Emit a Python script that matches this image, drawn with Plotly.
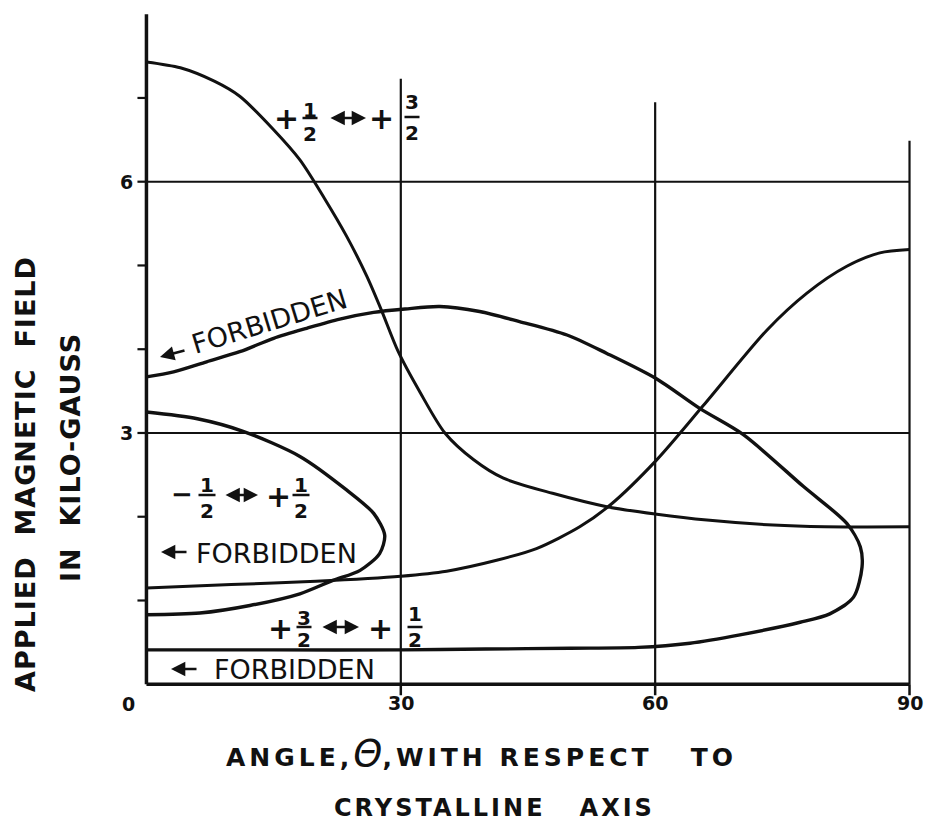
import plotly.graph_objects as go

# ---------------------------------------------------------------------------
# Resonance field (kilogauss) versus angle theta (degrees) to the crystal axis
# ---------------------------------------------------------------------------

# +1/2 <-> +3/2 transition, falling branch
fall_angle = [0, 4.0, 8.0, 11.0, 15.0, 18.1, 21.0, 23.6, 26.0, 27.7, 29.7, 32.3,
              35.2, 38.6, 42.1, 47.9, 54.3, 60.2, 66.1, 73.9, 80.0, 90]
fall_field = [7.43, 7.36, 7.20, 7.02, 6.62, 6.26, 5.80, 5.35, 4.87, 4.47, 3.97, 3.48,
              3.00, 2.68, 2.46, 2.28, 2.12, 2.03, 1.96, 1.90, 1.88, 1.88]

# rising branch
rise_angle = [0, 10.0, 20.0, 30.0, 35.4, 41.3, 46.0, 51.1, 54.7, 60.1,
              65.7, 73.2, 77.9, 82.6, 86.5, 90]
rise_field = [1.15, 1.19, 1.23, 1.29, 1.35, 1.48, 1.62, 1.88, 2.14, 2.67,
              3.33, 4.23, 4.67, 4.99, 5.15, 5.19]

# +3/2 <-> +1/2 transition (loop from the upper to the lower forbidden limit)
loop32_angle = [0, 3.2, 7.1, 11.0, 15.0, 18.9, 22.8, 26.8, 30.5, 34.6, 39.3, 44.0,
                49.6, 54.3, 60.1, 65.3, 70.4, 77.5, 82.6, 84.2, 84.4, 83.4, 80.6,
                77.1, 70.0, 64.1, 58.0, 50.0, 40.0, 30.0, 15.0, 0]
loop32_field = [3.67, 3.73, 3.85, 3.97, 4.13, 4.25, 4.36, 4.44, 4.48, 4.51, 4.45, 4.33,
                4.17, 3.95, 3.65, 3.29, 2.98, 2.36, 1.92, 1.64, 1.40, 1.04, 0.84,
                0.74, 0.59, 0.49, 0.44, 0.43, 0.42, 0.41, 0.41, 0.41]

# -1/2 <-> +1/2 transition loop
loop12_angle = [0, 6.0, 11.4, 18.1, 23.6, 26.8, 28.1, 27.5, 25.2, 22.0, 18.1, 12.2, 6.3, 0]
loop12_field = [3.25, 3.17, 3.02, 2.72, 2.32, 2.04, 1.78, 1.56, 1.36, 1.24, 1.08, 0.94, 0.85, 0.83]

# axes, ticks and grid
angle_ticks = [30, 60, 90]
angle_tick_labels = ["30", "60", "90"]
field_ticks = [1, 2, 3, 4, 5, 6, 7]
field_labeled = [3, 6]
field_tick_labels = ["3", "6"]
grid_field = [3, 6]
grid_angle = [30, 60, 90]
grid_angle_top = [7.23, 6.95, 6.49]
angle_max = 90
field_max = 8

# ---------------------------------------------------------------------------
W, H = 929, 822
ML, MR, MT, MB = 135, 11, 10, 121
X_RANGE = [-1.35, 91.0]
Y_RANGE = [-0.2, 8.05]
INK = "#111111"
FONT = "DejaVu Sans"

plot_w = W - ML - MR
plot_h = H - MT - MB
x_scale = plot_w / (X_RANGE[1] - X_RANGE[0])
y_scale = plot_h / (Y_RANGE[1] - Y_RANGE[0])


def paper(px, py):
    """Page pixel position -> paper coordinates."""
    return (px - ML) / plot_w, 1 - (py - MT) / plot_h


def data_x(px):
    return X_RANGE[0] + (px - ML) / x_scale


def data_y(py):
    return Y_RANGE[1] - (py - MT) / y_scale


fig = go.Figure()

for xs, ys, w in [(fall_angle, fall_field, 3),
                  (rise_angle, rise_field, 3),
                  (loop32_angle, loop32_field, 3.4),
                  (loop12_angle, loop12_field, 3.4)]:
    fig.add_trace(go.Scatter(x=xs, y=ys, mode="lines",
                             line=dict(color=INK, width=w, shape="spline", smoothing=0.8),
                             hoverinfo="skip", showlegend=False))

shapes = []
# grid lines
for f in grid_field:
    shapes.append(dict(type="line", x0=0, x1=angle_max, y0=f, y1=f,
                       line=dict(color=INK, width=2)))
for a, top in zip(grid_angle, grid_angle_top):
    shapes.append(dict(type="line", x0=a, x1=a, y0=0, y1=top,
                       line=dict(color=INK, width=2.2)))
# axis lines
shapes.append(dict(type="line", x0=0, x1=angle_max, y0=0, y1=0,
                   line=dict(color=INK, width=3.5)))
shapes.append(dict(type="line", x0=0, x1=0, y0=0, y1=field_max,
                   line=dict(color=INK, width=3.5)))
# tick marks (9 px to the left, 11 px downward)
tick_dx = -9 / x_scale
tick_dy = -11 / y_scale
for f in field_ticks:
    shapes.append(dict(type="line", x0=tick_dx, x1=0, y0=f, y1=f,
                       line=dict(color=INK, width=2.2)))
for a in angle_ticks:
    shapes.append(dict(type="line", x0=a, x1=a, y0=tick_dy, y1=0,
                       line=dict(color=INK, width=2.5)))

annotations = []


def text(px, py, s, size, bold=False, angle=0):
    x, y = paper(px, py)
    annotations.append(dict(x=x, y=y, xref="paper", yref="paper", text=s, showarrow=False,
                            textangle=angle, xanchor="center", yanchor="middle",
                            font=dict(family=FONT, size=size, color=INK,
                                      weight="bold" if bold else "normal")))


def fraction(cx, num_y, bar_y, den_y, num, den, half=7.5):
    text(cx, num_y, num, 20, bold=True)
    text(cx, den_y, den, 20, bold=True)
    shapes.append(dict(type="line", x0=data_x(cx - half), x1=data_x(cx + half),
                       y0=data_y(bar_y), y1=data_y(bar_y),
                       line=dict(color=INK, width=2.5)))


def arrow(tip_px, tip_py, tail_px, tail_py, both=False):
    x, y = paper(tip_px, tip_py)
    annotations.append(dict(x=x, y=y, xref="paper", yref="paper", text="", showarrow=True,
                            ax=tail_px - tip_px, ay=tail_py - tip_py,
                            arrowhead=2, arrowsize=1.1, arrowwidth=2.6,
                            arrowcolor=INK, standoff=0, startstandoff=0,
                            arrowside="end+start" if both else "end",
                            startarrowhead=2, startarrowsize=1.1))


# tick labels
origin_px = ML - X_RANGE[0] * x_scale
origin_py = MT + Y_RANGE[1] * y_scale
for a, lab in zip(angle_ticks, angle_tick_labels):
    text(origin_px + a * x_scale, 703, lab, 19, bold=True)
for f, lab in zip(field_labeled, field_tick_labels):
    text(126, origin_py - f * y_scale, lab, 19, bold=True)
text(128, 704, "0", 19, bold=True)

# transition labels:  +1/2 <-> +3/2
text(286, 118, "+", 30, bold=True)
fraction(310, 110, 118, 133.5, "1", "2")
arrow(366, 118, 329, 118, both=True)
text(381, 118, "+", 30, bold=True)
fraction(412, 102, 117, 133, "3", "2")

# -1/2 <-> +1/2
text(182, 494, "\u2212", 26, bold=True)
fraction(207, 485, 495, 511, "1", "2", half=8.5)
arrow(258, 495, 224, 495, both=True)
text(278, 496, "+", 30, bold=True)
fraction(301, 485, 495, 511, "1", "2", half=8.5)

# +3/2 <-> +1/2
text(280, 628, "+", 30, bold=True)
fraction(304, 618, 627, 640, "3", "2")
arrow(359, 627, 321, 627, both=True)
text(380, 628, "+", 30, bold=True)
fraction(415, 613.5, 627, 640, "1", "2")

# forbidden regions
text(276.5, 553, "FORBIDDEN", 27)
arrow(161, 552, 188, 552)
text(294.5, 669, "FORBIDDEN", 27)
arrow(171, 669, 198, 669)
text(269, 321.5, "FORBIDDEN", 27, angle=-17)
arrow(160, 357, 186, 350)

# axis titles
SP = "letter-spacing:4px"
text(25, 474, "<span style='letter-spacing:1px'>APPLIED\u00a0\u00a0MAGNETIC\u00a0\u00a0FIELD</span>",
     27, bold=True, angle=-90)
text(70, 458, "<span style='letter-spacing:1px'>IN\u00a0\u00a0KILO-GAUSS</span>",
     27, bold=True, angle=-90)
text(481, 754,
     f"<span style='{SP}'>ANGLE,</span>"
     "<span style='font-size:37px;font-weight:normal'><i>\u0398</i></span>"
     f"<span style='{SP}'>,WITH\u00a0RESPECT\u00a0\u00a0\u00a0TO</span>",
     25, bold=True)
text(494, 808, f"<span style='letter-spacing:3px'>CRYSTALLINE\u00a0\u00a0\u00a0AXIS</span>",
     24, bold=True)

fig.update_layout(
    width=W, height=H,
    margin=dict(l=ML, r=MR, t=MT, b=MB, autoexpand=False),
    paper_bgcolor="white", plot_bgcolor="white",
    showlegend=False,
    shapes=shapes,
    annotations=annotations,
    xaxis=dict(range=X_RANGE, visible=False, fixedrange=True),
    yaxis=dict(range=Y_RANGE, visible=False, fixedrange=True),
)

fig.write_html("out.html")
